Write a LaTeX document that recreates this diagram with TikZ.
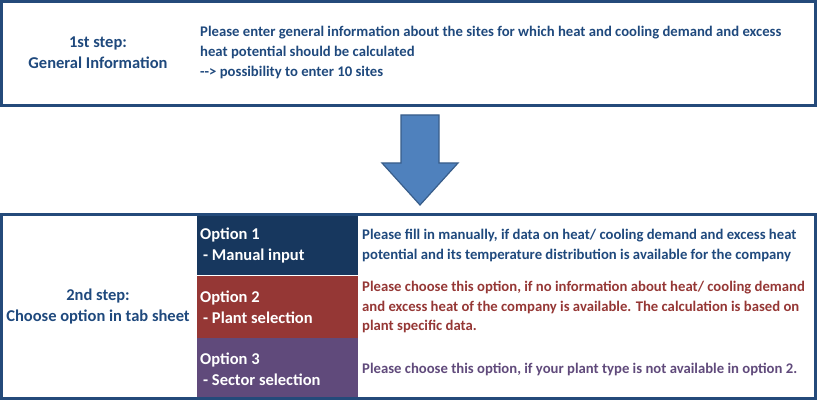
\documentclass[tikz,border=0pt]{standalone}
\usepackage{fontspec}
\setmainfont{Carlito}
\definecolor{stepblue}{HTML}{1F497D}
\definecolor{frameblue}{HTML}{244A7A}
\definecolor{optblue}{HTML}{17375E}
\definecolor{optred}{HTML}{953735}
\definecolor{optpurple}{HTML}{604A7B}
\definecolor{arrowfill}{HTML}{4F81BD}
\definecolor{arrowline}{HTML}{385D8A}
\tikzset{
  stepframe/.style={draw=frameblue, line width=3pt},
  txt/.style={font=\fontsize{14.7}{19.7}\selectfont\bfseries, inner sep=0pt},
  bigtxt/.style={font=\fontsize{16.5}{20.8}\selectfont\bfseries, inner sep=0pt},
  steplabel/.style={bigtxt, align=center, text=stepblue},
  optname/.style={bigtxt, align=left, anchor=west, text=white},
  infotext/.style={txt, align=left, anchor=west},
  optbox/.style={inner sep=0pt, anchor=north west, minimum width=161pt}
}
\begin{document}
\begin{tikzpicture}[x=1pt,y=-1pt]
        \useasboundingbox (0,0) rectangle (817,401);
        % 1st step
        \draw [stepframe] (1.5,1.5) rectangle (815.5,105.5);
        \node [steplabel] (step1) at (98,53) {1st step:\\General Information};
        \node [infotext, text=stepblue] (step1info) at (200,52.5) {Please enter general information about the sites for which heat and cooling demand and excess\\heat potential should be calculated\\-{}-{}> possibility to enter 10 sites};
        % arrow
        \draw [fill=arrowfill, draw=arrowline, line width=1.2pt, line join=miter]
            (401,115) -- (439,115) -- (439,163) -- (458,163) -- (420,205) -- (382,163) -- (401,163) -- cycle;
        % 2nd step
        \node [optbox, fill=optblue, minimum height=61pt] (opt1) at (197,214) {};
        \node [optbox, fill=optred, minimum height=62pt] (opt2) at (opt1.south west) {};
        \node [optbox, fill=optpurple, minimum height=62pt] (opt3) at (opt2.south west) {};
        \draw [stepframe] (1.5,214.5) rectangle (815.5,398.5);
        \node [steplabel] (step2) at (98,306.5) {2nd step:\\Choose option in tab sheet};
        \node [optname] (opt1name) at (200,245.5) {Option 1\\\hspace*{3pt}- Manual input};
        \node [optname] (opt2name) at (200,307) {Option 2\\\hspace*{3pt}- Plant selection};
        \node [optname] (opt3name) at (200,369) {Option 3\\\hspace*{3pt}- Sector selection};
        \node [infotext, text=stepblue] (opt1info) at (362,245.5) {Please fill in manually, if data on heat/ cooling demand and excess heat\\potential and its temperature distribution is available for the company};
        \node [infotext, text=optred] (opt2info) at (362,307) {Please choose this option, if no information about heat/ cooling demand\\and excess heat of the company is available. The calculation is based on\\plant specific data.};
        \node [infotext, text=optpurple] (opt3info) at (362,369) {Please choose this option, if your plant type is not available in option 2.};
\end{tikzpicture}
\end{document}
